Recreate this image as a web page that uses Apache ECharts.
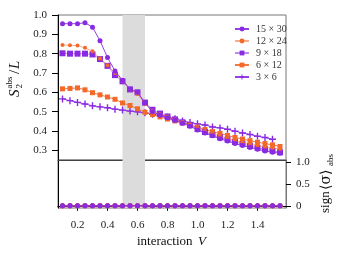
<!DOCTYPE html>
<html><head><meta charset="utf-8">
<script src="https://cdn.jsdelivr.net/npm/echarts@6/dist/echarts.min.js"></script>
<style>html,body{margin:0;padding:0;background:#fff}#c{width:342px;height:259px}</style>
</head><body><div id="c"></div>
<script>
const V = [0.1,0.15,0.2,0.25,0.3,0.35,0.4,0.45,0.5,0.55,0.6,0.65,0.7,0.75,0.8,0.85,0.9,0.95,1.0,1.05,1.1,1.15,1.2,1.25,1.3,1.35,1.4,1.45,1.5,1.55];
const V3 = [0.1,0.15,0.2,0.25,0.3,0.35,0.4,0.45,0.5,0.55,0.6,0.65,0.7,0.75,0.8,0.85,0.9,0.95,1.0,1.05,1.1,1.15,1.2,1.25,1.3,1.35,1.4,1.45,1.5];
const s15x30 = [0.955,0.955,0.955,0.96,0.937,0.867,0.78,0.71,0.663,0.617,0.60,0.545,0.50,0.482,0.468,0.455,0.44,0.425,0.405,0.39,0.375,0.36,0.348,0.335,0.325,0.315,0.305,0.297,0.29,0.285];
const s12x24 = [0.845,0.843,0.842,0.83,0.813,0.775,0.74,0.70,0.66,0.615,0.592,0.54,0.505,0.487,0.475,0.46,0.447,0.433,0.415,0.40,0.388,0.375,0.363,0.352,0.342,0.333,0.325,0.318,0.312,0.307];
const s9x18 = [0.802,0.80,0.80,0.80,0.796,0.772,0.737,0.689,0.657,0.615,0.60,0.547,0.51,0.49,0.475,0.46,0.445,0.43,0.41,0.395,0.38,0.367,0.355,0.343,0.333,0.322,0.313,0.305,0.298,0.29];
const s6x12 = [0.618,0.62,0.623,0.613,0.598,0.587,0.576,0.564,0.545,0.532,0.515,0.497,0.485,0.473,0.462,0.452,0.442,0.432,0.42,0.408,0.397,0.387,0.377,0.367,0.358,0.35,0.342,0.335,0.328,0.32];
const s3x6 = [0.566,0.557,0.548,0.54,0.53,0.525,0.52,0.513,0.508,0.503,0.499,0.494,0.487,0.48,0.472,0.463,0.452,0.444,0.437,0.431,0.421,0.416,0.409,0.399,0.39,0.382,0.373,0.366,0.357];
const sign15x30 = [0,0,0,0,0,0,0,0,0,0,0,0,0,0,0,0,0,0,0,0,0,0,0,0,0,0,0,0,0,0];
const sign12x24 = [0,0,0,0,0,0,0,0,0,0,0,0,0,0,0,0,0,0,0,0,0,0,0,0,0,0,0,0,0,0];
const sign9x18 = [0,0,0,0,0,0,0,0,0,0,0,0,0,0,0,0,0,0,0,0,0,0,0,0,0,0,0,0,0,0];
const sign6x12 = [0,0,0,0,0,0,0,0,0,0,0,0,0,0,0,0,0,0,0,0,0,0,0,0,0,0,0,0,0,0];
const sign3x6 = [0,0,0,0,0,0,0,0,0,0,0,0,0,0,0,0,0,0,0,0,0,0,0,0,0,0,0,0,0];
const names = ['15 × 30','12 × 24','9 × 18','6 × 12','3 × 6'];
const shade = [0.5, 0.65];
const xTicks = [0.2,0.4,0.6,0.8,1.0,1.2,1.4];
const yTicksTop = [0.3,0.4,0.5,0.6,0.7,0.8,0.9,1.0];
const yTicksBottom = [0,0.5,1.0];

const PURPLE = '#8a2be2', ORANGE = '#f4692a';
const plus = 'path://M4,0H6V4H10V6H6V10H4V6H0V4H4Z';
const FONT = 'Liberation Serif';
const styles = [
  {color:PURPLE, symbol:'circle', size:5, lop:0.9},
  {color:ORANGE, symbol:'circle', size:4, lop:0.55},
  {color:PURPLE, symbol:'rect', size:6, lop:0.55},
  {color:ORANGE, symbol:'rect', size:5, lop:0.9},
  {color:PURPLE, symbol:plus, size:7, lop:0.9}
];
const topData = [[V,s15x30],[V,s12x24],[V,s9x18],[V,s6x12],[V3,s3x6]];
const botData = [[V,sign15x30],[V,sign12x24],[V,sign9x18],[V,sign6x12],[V3,sign3x6]];

function mk(i, xs, ys, gi, z, bottom){
  const st = styles[i];
  return {type:'line', name:names[i], xAxisIndex:gi, yAxisIndex:gi, z:z,
    data: xs.map((v,k)=>[v, ys[k]]), symbol: bottom ? 'circle' : st.symbol, symbolSize: bottom ? 5 : st.size, showSymbol:true,
    itemStyle:{color:st.color}, lineStyle:{color:st.color, width:1, opacity:st.lop}, animation:false};
}
const series = [];
[0,1].forEach(gi=>{
  series.push({type:'line', xAxisIndex:gi, yAxisIndex:gi, data:[], z:1, silent:true,
    markArea:{silent:true, itemStyle:{color:'#dcdcdc'}, data:[[{xAxis:shade[0]},{xAxis:shade[1]}]]}});
});
for(let i=4;i>=0;i--){ series.push(mk(i, topData[i][0], topData[i][1], 0, 5-i+2, false)); }
for(let i=4;i>=0;i--){ series.push(mk(i, botData[i][0], botData[i][1], 1, 5-i+2, true)); }

const labelStyle = {fontFamily:FONT, fontSize:11, color:'#222'};
const option = {
  animation:false,
  grid:[
    {left:58, top:15, width:228, height:145, show:true, borderColor:'#777', borderWidth:1, backgroundColor:'transparent'},
    {left:58, top:160, width:228, height:48, show:true, borderColor:'#777', borderWidth:1, backgroundColor:'transparent'}
  ],
  xAxis:[
    {type:'value', gridIndex:0, min:0.07, max:1.59, axisLine:{show:true, lineStyle:{color:'#444'}}, axisTick:{show:false}, axisLabel:{show:false}, splitLine:{show:false}},
    {type:'value', gridIndex:1, min:0.07, max:1.59, axisLine:{show:true, lineStyle:{color:'#000'}},
     axisTick:{show:true, inside:false, length:5, lineStyle:{color:'#000'}, customValues:xTicks},
     axisLabel:Object.assign({show:true, margin:12, customValues:xTicks, formatter:v=>v.toFixed(1)}, labelStyle), splitLine:{show:false}}
  ],
  yAxis:[
    {type:'value', gridIndex:0, position:'left', min:0.25, max:1.0, axisLine:{show:true, lineStyle:{color:'#000'}},
     axisTick:{show:true, inside:false, length:6, lineStyle:{color:'#000'}, customValues:yTicksTop},
     axisLabel:Object.assign({show:true, margin:11, customValues:yTicksTop, formatter:v=>v.toFixed(1)}, labelStyle), splitLine:{show:false}},
    {type:'value', gridIndex:1, position:'right', min:-0.05, max:1.05, axisLine:{show:true, lineStyle:{color:'#777'}},
     axisTick:{show:true, inside:false, length:5, lineStyle:{color:'#000'}, customValues:yTicksBottom},
     axisLabel:Object.assign({show:true, margin:10, customValues:yTicksBottom, formatter:v=>v===0?'0':v.toFixed(1)}, labelStyle), splitLine:{show:false}},
    {type:'value', gridIndex:1, position:'left', min:-0.05, max:1.05, axisLine:{show:true, lineStyle:{color:'#000'}},
     axisTick:{show:false}, axisLabel:{show:false}, splitLine:{show:false}}
  ],
  legend:{orient:'vertical', left:229, top:19, itemWidth:14, itemHeight:6, itemGap:2,
    data:names, textStyle:{fontFamily:FONT, fontSize:10, color:'#333', lineHeight:10, padding:[0,0,0,2]}, selectedMode:false},
  series: series,
  graphic:[
    {type:'group', x:15, y:97, rotation:Math.PI/2, children:[
      {type:'text', x:0, y:0, style:{text:'S', font:'italic 15px "Liberation Serif"', fill:'#111', verticalAlign:'middle'}},
      {type:'text', x:8.5, y:-5, style:{text:'abs', font:'9px "Liberation Serif"', fill:'#111', verticalAlign:'middle'}},
      {type:'text', x:8.5, y:5, style:{text:'2', font:'9px "Liberation Serif"', fill:'#111', verticalAlign:'middle'}},
      {type:'text', x:23, y:0, style:{text:'/', font:'15px "Liberation Serif"', fill:'#111', verticalAlign:'middle'}},
      {type:'text', x:28, y:0, style:{text:'L', font:'italic 15px "Liberation Serif"', fill:'#111', verticalAlign:'middle'}}
    ]},
    {type:'group', x:326, y:213, rotation:Math.PI/2, children:[
      {type:'text', x:0, y:0, style:{text:'sign', font:'13px "Liberation Serif"', fill:'#111', verticalAlign:'middle'}},
      {type:'text', x:23, y:0, style:{text:'⟨σ⟩', font:'14px "DejaVu Serif"', fill:'#111', verticalAlign:'middle'}},
      {type:'text', x:47, y:5, style:{text:'abs', font:'9px "Liberation Serif"', fill:'#111', verticalAlign:'middle'}}
    ]},
    {type:'text', x:137, y:242, style:{text:'interaction', font:'13px "Liberation Serif"', fill:'#111', align:'left', verticalAlign:'middle'}},
    {type:'text', x:198, y:242, style:{text:'V', font:'italic 13px "Liberation Serif"', fill:'#111', align:'left', verticalAlign:'middle'}}
  ]
};
const chart = echarts.init(document.getElementById('c'), null, {renderer:'canvas'});
chart.setOption(option);
</script></body></html>
